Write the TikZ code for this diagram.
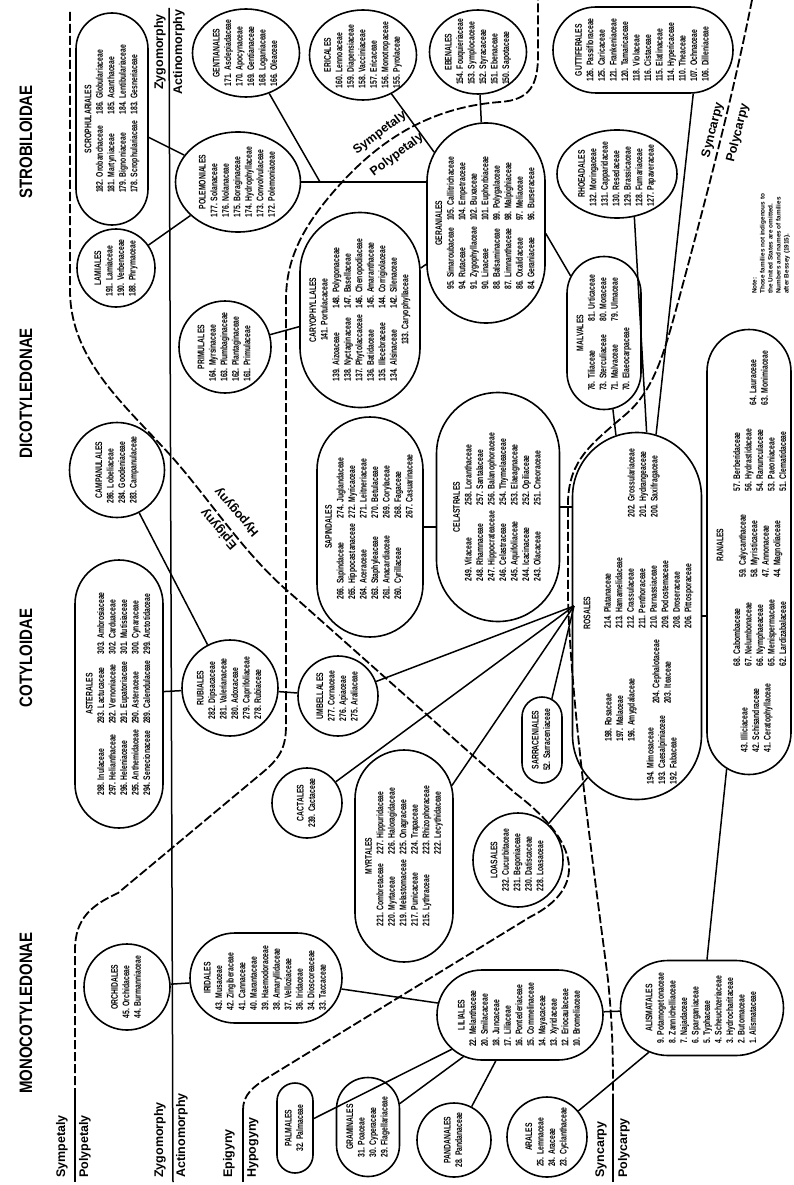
\documentclass[tikz,border=0pt]{standalone}
\usepackage{fontspec}
\setmainfont{Liberation Sans}
\usepackage{graphicx}
\usetikzlibrary{shapes.geometric,shapes.misc}

\newcommand{\famfont}{\fontsize{8}{9.6}\selectfont\bfseries}
\newcommand{\tall}[1]{\scalebox{0.85}[1.2]{#1}}
\newcommand{\famlist}[2]{\tall{\begin{tabular}{@{}l@{}}\multicolumn{1}{@{}c@{}}{#1}\\#2\end{tabular}}}
\newcommand{\famcols}[2]{\tall{\begin{tabular}{@{}l@{\hspace{7pt}}l@{}}\multicolumn{2}{@{}c@{}}{#1}\\#2\end{tabular}}}
\newcommand{\subcl}[1]{\scalebox{1}[1.2]{\fontsize{15}{15}\selectfont\bfseries #1}}

\begin{document}
\begin{tikzpicture}[x=1pt,y=-1pt,
  order/.style={draw,line width=1.6pt,inner sep=0pt},
  pill/.style={order,rounded rectangle,rotate=90},
  bar/.style={order,rounded rectangle},
  oval/.style={order,ellipse},
  ring/.style={order,circle},
  fams/.style={rotate=90,inner sep=0pt,font=\famfont},
  link/.style={line width=1.5pt},
  divide/.style={line width=1.8pt,dash pattern=on 9pt off 3pt},
  side/.style={inner sep=0pt,font=\fontsize{12.5}{12.5}\selectfont\bfseries},
  subclass/.style={rotate=90,inner sep=0pt}]
\useasboundingbox (0,0) rectangle (793,1185);

% subclasses
\node[subclass] (strob) at (26,142) {\subcl{STROBILOIDAE}};
\node[subclass] (dicot) at (26,393) {\subcl{DICOTYLEDONAE}};
\node[subclass] (cotyl) at (26,658) {\subcl{COTYLOIDAE}};
\node[subclass] (monoc) at (26,1013) {\subcl{MONOCOTYLEDONAE}};

% orders
\node[pill,minimum width=212pt,minimum height=72pt] (scroph) at (112,119) {};
\node[ring,minimum size=78pt] (lami) at (116,268) {};
\node[oval,minimum width=125pt,minimum height=100pt] (polem) at (238,182) {};
\node[oval,minimum width=107pt,minimum height=88pt] (gent) at (246,53) {};
\node[oval,minimum width=107pt,minimum height=90pt] (eric) at (363,55) {};
\node[oval,minimum width=97pt,minimum height=84pt] (eben) at (478,52) {};
\node[bar,minimum width=180pt,minimum height=86pt] (gutt) at (643,50) {};
\node[oval,minimum width=120pt,minimum height=88pt] (rhoe) at (617,174) {};
\node[pill,minimum width=200pt,minimum height=118pt] (gera) at (486,223) {};
\node[pill,minimum width=195pt,minimum height=120pt] (cary) at (360,310) {};
\node[ring,minimum size=92pt] (prim) at (225,347) {};
\node[pill,minimum width=153pt,minimum height=74pt] (malv) at (604,333) {};
\node[ring,minimum size=95pt] (camp) at (117,470) {};
\node[pill,minimum width=220pt,minimum height=106pt] (sapi) at (370,527) {};
\node[pill,minimum width=229pt,minimum height=123pt] (cela) at (498,507) {};
\node[pill,minimum width=367pt,minimum height=129pt] (rosa) at (637,616) {};
\node[pill,minimum width=445pt,minimum height=84pt] (rana) at (749,552) {};
\node[pill,minimum width=268pt,minimum height=88pt] (aste) at (119,694) {};
\node[ring,minimum size=96pt] (rubi) at (230,688) {};
\node[ring,minimum size=80pt] (umbe) at (338,696) {};
\node[ring,minimum size=70pt] (cact) at (307,803) {};
\node[pill,minimum width=212pt,minimum height=98pt] (myrt) at (404,856) {};
\node[oval,minimum width=90pt,minimum height=94pt] (loas) at (518,860) {};
\node[pill,minimum width=86pt,minimum height=40pt] (sarr) at (542,740) {};
\node[bar,minimum width=163pt,minimum height=95pt] (alis) at (702,1008) {};
\node[bar,minimum width=166pt,minimum height=90pt] (lili) at (520,1015) {};
\node[bar,minimum width=152pt,minimum height=90pt] (irid) at (266,978) {};
\node[ring,minimum size=86pt] (orch) at (127,987) {};
\node[pill,minimum width=90pt,minimum height=36pt] (palm) at (295,1128) {};
\node[pill,minimum width=99pt,minimum height=63pt] (gram) at (368,1127) {};
\node[ring,minimum size=74pt] (pand) at (454,1140) {};
\node[ring,minimum size=80pt] (aral) at (547,1137) {};

% families
\node[fams] (scrophT) at (scroph) {\famcols{SCROPHULARIALES}{182. Orobanchaceae & 186. Globulariaceae\\181. Martyniaceae & 185. Acanthaceae\\179. Bignoniaceae & 184. Lentibulariaceae\\178. Scrophulariaceae & 183. Gesneriaceae}};
\node[fams] (lamiT) at (lami) {\famlist{LAMIALES}{191. Lamiaceae\\190. Verbenaceae\\188. Phrymaceae}};
\node[fams] (polemT) at (polem) {\famlist{POLEMONIALES}{177. Solanaceae\\176. Nolanaceae\\175. Boraginaceae\\174. Hydrophyllaceae\\173. Convolvulaceae\\172. Polemoniaceae}};
\node[fams] (gentT) at (gent) {\famlist{GENTIANALES}{171. Asclepiadaceae\\170. Apocynaceae\\169. Gentianaceae\\168. Loganiaceae\\166. Oleaceae}};
\node[fams] (ericT) at (eric) {\famlist{ERICALES}{160. Lennoaceae\\159. Diapensiaceae\\158. Vacciniaceae\\157. Ericaceae\\156. Monotropaceae\\155. Pyrolaceae}};
\node[fams] (ebenT) at (eben) {\famlist{EBENALES}{154. Fouquieriaceae\\153. Symplocaceae\\152. Styracaceae\\151. Ebenaceae\\150. Sapotaceae}};
\node[fams] (guttT) at (gutt) {\famlist{GUTTIFERALES}{126. Passifloraceae\\125. Caricaceae\\121. Frankeniaceae\\120. Tamaricaceae\\118. Violaceae\\116. Cistaceae\\115. Elatinaceae\\114. Hypericaceae\\110. Theaceae\\107. Ochnaceae\\106. Dilleniaceae}};
\node[fams] (rhoeT) at (rhoe) {\famlist{RHOEADALES}{132. Moringaceae\\131. Capparidaceae\\130. Resedaceae\\129. Brassicaceae\\128. Fumariaceae\\127. Papaveraceae}};
\node[fams] (geraT) at (gera) {\famcols{GERANIALES}{95. Simaroubaceae & 105. Callitrichaceae\\94. Rutaceae & 104. Empetraceae\\91. Zygophyllaceae & 102. Buxaceae\\90. Linaceae & 101. Euphorbiaceae\\88. Balsaminaceae & 99. Polygalaceae\\87. Limnanthaceae & 98. Malpighiaceae\\86. Oxalidaceae & 97. Meliaceae\\84. Geraniaceae & 96. Burseraceae}};
\node[fams] (caryT) at (cary) {\tall{\begin{tabular}{@{}l@{\hspace{7pt}}l@{}}\multicolumn{2}{@{}c@{}}{CARYOPHYLLALES}\\\multicolumn{2}{@{}c@{}}{141. Portulacaceae}\\139. Aizoaceae & 148. Polygonaceae\\138. Nyctaginaceae & 147. Basellaceae\\137. Phytolaccaceae & 146. Chenopodiaceae\\136. Batidaceae & 145. Amaranthaceae\\135. Illecebraceae & 144. Corrigiolaceae\\134. Alsinaceae & 142. Silenaceae\\\multicolumn{2}{@{}c@{}}{133. Caryophyllaceae}\end{tabular}}};
\node[fams] (primT) at (prim) {\famlist{PRIMULALES}{164. Myrsinaceae\\163. Plumbaginaceae\\162. Plantaginaceae\\161. Primulaceae}};
\node[fams] (malvT) at (malv) {\famcols{MALVALES}{76. Tiliaceae & 81. Urticaceae\\73. Sterculiaceae & 80. Moraceae\\71. Malvaceae & 79. Ulmaceae\\70. Elaeocarpaceae & }};
\node[fams] (campT) at (camp) {\famlist{CAMPANULALES}{286. Lobeliaceae\\284. Goodeniaceae\\283. Campanulaceae}};
\node[fams] (sapiT) at (sapi) {\famcols{SAPINDALES}{266. Sapindaceae & 274. Juglandaceae\\265. Hippocastanaceae & 272. Myricaceae\\264. Aceraceae & 271. Leitneriaceae\\263. Staphyleaceae & 270. Betulaceae\\261. Anacardiaceae & 269. Corylaceae\\260. Cyrillaceae & 268. Fagaceae\\ & 267. Casuarinaceae}};
\node[fams] (celaT) at (cela) {\famcols{CELASTRALES}{249. Vitaceae & 258. Loranthaceae\\248. Rhamnaceae & 257. Santalaceae\\247. Hippocrateaceae & 256. Balanophoraceae\\246. Celastraceae & 254. Thymelaeaceae\\245. Aquifoliaceae & 253. Elaeagnaceae\\244. Icacinaceae & 252. Opiliaceae\\243. Olacaceae & 251. Cneoraceae}};
\node[fams] (rosaT) at (587,613) {\tall{ROSALES}};
\node[fams] (rosaA) at (638,483) {\famlist{}{202. Grossulariaceae\\201. Hydrangeaceae\\200. Saxifragaceae}};
\node[fams] (rosaB) at (643,593) {\famlist{}{214. Platanaceae\\213. Hamamelidaceae\\212. Crassulaceae\\211. Penthoraceae\\210. Parnassiaceae\\209. Podostemaceae\\208. Droseraceae\\206. Pittosporaceae}};
\node[fams] (rosaC) at (657,672) {\famlist{}{204. Cephalotaceae\\203. Iteaceae}};
\node[fams] (rosaD) at (615,710) {\famlist{}{198. Rosaceae\\197. Malaceae\\196. Amygdalaceae}};
\node[fams] (rosaE) at (657,750) {\famlist{}{194. Mimosaceae\\193. Caesalpiniaceae\\192. Fabaceae}};
\node[fams] (ranaT) at (720,545) {\tall{RANALES}};
\node[fams] (ranaA) at (754,378) {\famlist{}{64. Lauraceae\\63. Monimiaceae}};
\node[fams] (ranaB) at (755,460) {\famlist{}{57. Berberidaceae\\56. Hydrastidaceae\\54. Ranunculaceae\\53. Paeoniaceae\\51. Clematidaceae}};
\node[fams] (ranaC) at (755,546) {\famlist{}{59. Calycanthaceae\\58. Myristicaceae\\47. Annonaceae\\44. Magnoliaceae}};
\node[fams] (ranaD) at (755,633) {\famlist{}{68. Cabombaceae\\67. Nelumbonaceae\\66. Nymphaeaceae\\65. Menispermaceae\\62. Lardizabalaceae}};
\node[fams] (ranaE) at (751,718) {\famlist{}{43. Illiciaceae\\42. Schisandraceae\\41. Ceratophyllaceae}};
\node[fams] (asteT) at (aste) {\tall{\begin{tabular}{@{}l@{\hspace{7pt}}l@{\hspace{7pt}}l@{}}\multicolumn{3}{@{}c@{}}{ASTERALES}\\298. Inulaceae & 293. Lactucaceae & 303. Ambrosiaceae\\297. Helianthaceae & 292. Vernoniaceae & 302. Carduaceae\\296. Heleniaceae & 291. Eupatoriaceae & 301. Mutisiaceae\\295. Anthemidaceae & 290. Asteraceae & 300. Cynaraceae\\294. Senecionaceae & 289. Calendulaceae & 299. Arctotidaceae\end{tabular}}};
\node[fams] (rubiT) at (rubi) {\famlist{RUBIALES}{282. Dipsacaceae\\281. Valerianaceae\\280. Adoxaceae\\279. Caprifoliaceae\\278. Rubiaceae}};
\node[fams] (umbeT) at (umbe) {\famlist{UMBELLALES}{277. Cornaceae\\276. Apiaceae\\275. Araliaceae}};
\node[fams] (cactT) at (cact) {\famlist{CACTALES}{239. Cactaceae}};
\node[fams] (myrtT) at (myrt) {\famcols{MYRTALES}{221. Combretaceae & 227. Hippuridaceae\\220. Myrtaceae & 226. Haloragidaceae\\219. Melastomaceae & 225. Onagraceae\\217. Punicaceae & 224. Trapaceae\\215. Lythraceae & 223. Rhizophoraceae\\ & 222. Lecythidaceae}};
\node[fams] (loasT) at (loas) {\famlist{LOASALES}{232. Cucurbitaceae\\231. Begoniaceae\\230. Datiscaceae\\228. Loasaceae}};
\node[fams] (sarrT) at (sarr) {\famlist{SARRACENIALES}{52. Sarraceniaceae}};
\node[fams] (alisT) at (alis) {\famlist{ALISMATALES}{9. Potamogetonaceae\\8. Zannichelliaceae\\7. Najadaceae\\6. Sparganiaceae\\5. Typhaceae\\4. Scheuchzeriaceae\\3. Hydrocharitaceae\\2. Butomaceae\\1. Alismataceae}};
\node[fams] (liliT) at (lili) {\famlist{LILIALES}{22. Melanthaceae\\20. Smilacaceae\\18. Juncaceae\\17. Liliaceae\\16. Pontederiaceae\\15. Commelinaceae\\14. Mayacaceae\\13. Xyridaceae\\12. Eriocaulaceae\\10. Bromeliaceae}};
\node[fams] (iridT) at (irid) {\famlist{IRIDALES}{43. Musaceae\\42. Zingiberaceae\\41. Cannaceae\\40. Marantaceae\\39. Haemodoraceae\\38. Amaryllidaceae\\37. Velloziaceae\\36. Iridaceae\\34. Dioscoreaceae\\33. Taccaceae}};
\node[fams] (orchT) at (orch) {\famlist{ORCHIDALES}{45. Orchidaceae\\44. Burmanniaceae}};
\node[fams] (palmT) at (palm) {\famlist{PALMALES}{32. Palmaceae}};
\node[fams] (gramT) at (gram) {\famlist{GRAMINALES}{31. Poaceae\\30. Cyperaceae\\29. Flagellariaceae}};
\node[fams] (pandT) at (pand) {\famlist{PANDANALES}{28. Pandanaceae}};
\node[fams] (aralT) at (aral) {\famlist{ARALES}{25. Lemnaceae\\24. Araceae\\23. Cyclanthaceae}};

% lines of descent
\coordinate (j1) at (320,182);
\coordinate (hub) at (574,606);
\draw[link] (scroph) -- (polem);
\draw[link] (lami) -- (polem);
\draw[link] (polem.east) -- (polem.east -| gera.north);
\draw[link] (gent) -- (j1);
\draw[link] (eric) -- (gera);
\draw[link] (eben) -- (gera);
\draw[link] (cary) -- (gera);
\draw[link] (prim) -- (cary);
\draw[link] (gera.-100) -- (malv);
\draw[link] (malv) -- (rosa);
\draw[link] (rhoe.-68) -- (rosa.-3.5);
\draw[link] (gutt.-41) -- (rosa.-6.7);
\draw[link] (cela.south) -- (cela.south -| rosa.north);
\draw[link] (sapi.south) -- (sapi.south -| cela.north);
\draw[link] (camp) -- (rubi);
\draw[link] (aste) -- (rubi);
\draw[link] (rubi) -- (umbe);
\draw[link] (umbe) -- (hub);
\draw[link] (cact) -- (hub);
\draw[link] (myrt) -- (hub);
\draw[link] (sarr) -- (hub);
\draw[link] (loas.50) -- (rosa.163);
\draw[link] (rosa.south) -- (rosa.south -| rana.north);
\draw[link] (rana) -- (alis);
\draw[link] (lili) -- (alis);
\draw[link] (aral) -- (alis);
\draw[link] (irid) -- (lili);
\draw[link] (orch) -- (irid);
\draw[link] (lili) -- (palm);
\draw[link] (lili) -- (gram);
\draw[link] (lili) -- (pand);

% Sympetaly / Polypetaly
\draw[divide] (75,1097) -- (75,950) .. controls (75,918) and (92,905) .. (118,893) -- (262,773) .. controls (280,758) and (286,748) .. (286,725) -- (286,300) .. controls (286,262) and (300,230) .. (335,190) .. controls (370,150) and (420,108) .. (500,102) .. controls (530,100) and (538,85) .. (538,55) -- (538,0);
\draw[line width=1.8pt] (75,1097) -- (75,1182);
% Zygomorphy / Actinomorphy
\draw[line width=1.5pt] (169,8) -- (173,1182);
% Epigyny / Hypogyny
\draw[divide] (70,12) -- (70,290) .. controls (70,360) and (125,405) .. (172,457) .. controls (210,500) and (245,555) .. (290,593) -- (515,793) .. controls (580,842) and (588,888) .. (530,917) -- (272,1075) .. controls (252,1087) and (243,1095) .. (243,1110);
\draw[line width=1.8pt] (243,1110) -- (243,1182);
% Syncarpy / Polycarpy
\draw[divide] (752,0) .. controls (730,110) and (700,220) .. (680,295) .. controls (665,350) and (655,390) .. (625,415) .. controls (590,445) and (570,460) .. (568,500) -- (568,600) .. controls (572,720) and (598,900) .. (608,980) .. controls (613,1030) and (613,1060) .. (613,1100);
\draw[line width=1.8pt] (613,1100) -- (613,1182);

% boundary labels
\node[side,rotate=90] (zygT) at (160,52) {Zygomorphy};
\node[side,rotate=90] (actT) at (179,52) {Actinomorphy};
\node[side,rotate=37] (symM) at (380,133) {Sympetaly};
\node[side,rotate=37] (polM) at (397,155) {Polypetaly};
\node[side,rotate=131] (hypM) at (237,512) {Hypogyny};
\node[side,rotate=131] (epiM) at (219,529) {Epigyny};
\node[side,rotate=76] (synT) at (713,130) {Syncarpy};
\node[side,rotate=76] (polT) at (738,133) {Polycarpy};
\node[side,rotate=90,anchor=west] (symB) at (62,1178) {Sympetaly};
\node[side,rotate=90,anchor=west] (polB) at (85,1178) {Polypetaly};
\node[side,rotate=90,anchor=west] (zygB) at (160,1178) {Zygomorphy};
\node[side,rotate=90,anchor=west] (actB) at (182,1178) {Actinomorphy};
\node[side,rotate=90,anchor=west] (epiB) at (229,1178) {Epigyny};
\node[side,rotate=90,anchor=west] (hypB) at (253,1178) {Hypogyny};
\node[side,rotate=90,anchor=west] (synB) at (601,1178) {Syncarpy};
\node[side,rotate=90,anchor=west] (polB2) at (624,1178) {Polycarpy};

\node[fams,font=\fontsize{6.4}{8}\selectfont\bfseries,align=left,anchor=west] (note) at (771,294) {Note:\\Those families not indigenous to\\the United States are omitted.\\Numbers and names of families\\after Bessey (1915).};
\end{tikzpicture}
\end{document}
